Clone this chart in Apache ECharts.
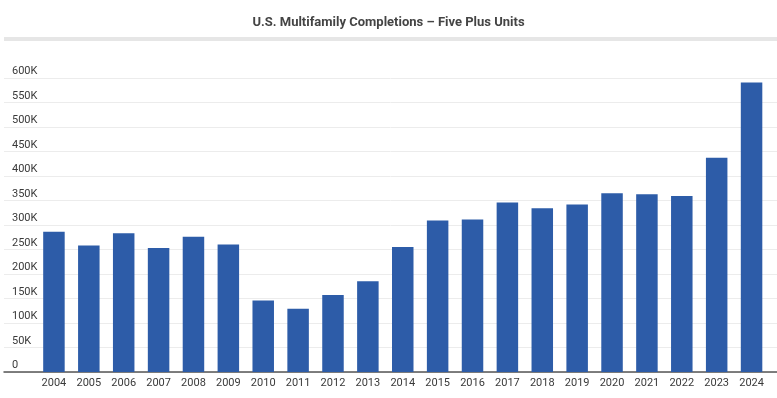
<!DOCTYPE html>
<html lang="en">
<head>
    <meta charset="UTF-8">
    <title>U.S. Multifamily Completions – Five Plus Units</title>
    <script src="https://cdn.jsdelivr.net/npm/echarts@6/dist/echarts.min.js"></script>
    <style>
        html, body { margin: 0; padding: 0; background: #fff; }
        #chart { width: 777px; height: 398px; }
    </style>
</head>
<body>
    <div id="chart"></div>
    <script>
        // data, thousands of units
        const years = ['2004', '2005', '2006', '2007', '2008', '2009', '2010', '2011', '2012', '2013', '2014',
            '2015', '2016', '2017', '2018', '2019', '2020', '2021', '2022', '2023', '2024'];
        const completions = [286, 258, 283, 253, 276, 260, 146, 129, 157, 185, 255,
            309, 311, 346, 334, 342, 365, 363, 359, 437, 591];
        const yTicks = { min: 0, max: 600, step: 50 };
        const title = 'U.S. Multifamily Completions – Five Plus Units';

        const chart = echarts.init(document.getElementById('chart'));
        const font = 'Roboto, "Noto Sans", sans-serif';

        const option = {
            animation: false,
            title: {
                text: title,
                left: 'center',
                top: 11,
                textStyle: { fontFamily: font, fontSize: 13, fontWeight: 'bold', color: '#444' }
            },
            graphic: [{
                type: 'rect',
                shape: { x: 4, y: 37, width: 773, height: 4 },
                style: { fill: '#e6e6e6' }
            }],
            // grid 0 holds the full-width gridlines, y labels and base line
            // grid 1 holds the bars and year labels
            grid: [
                { left: 4, right: 0, top: 78, bottom: 26 },
                { left: 36.5, right: 8, top: 78, bottom: 26 }
            ],
            xAxis: [{
                gridIndex: 0,
                type: 'value',
                min: 0, max: 1,
                axisLine: { show: true, onZero: false, lineStyle: { color: '#555', width: 1.5 } },
                axisTick: { show: false },
                axisLabel: { show: false },
                splitLine: { show: false }
            }, {
                gridIndex: 1,
                type: 'category',
                data: years,
                axisLine: { show: false },
                axisTick: { show: false },
                axisLabel: { fontFamily: font, fontSize: 11, color: '#3a3a3a', margin: 6 }
            }],
            yAxis: [{
                gridIndex: 0,
                type: 'value',
                min: yTicks.min,
                max: yTicks.max,
                interval: yTicks.step,
                axisLine: { show: false },
                axisTick: { show: false },
                splitLine: { lineStyle: { color: '#ececec', width: 1 } },
                axisLabel: {
                    inside: true,
                    align: 'left',
                    verticalAlign: 'bottom',
                    padding: [0, 0, 1, 0],
                    fontFamily: font,
                    fontSize: 11,
                    color: '#3a3a3a',
                    formatter: v => v === 0 ? '0' : v + 'K'
                }
            }, {
                gridIndex: 1,
                type: 'value',
                min: yTicks.min,
                max: yTicks.max,
                show: false
            }],
            series: [{
                type: 'bar',
                xAxisIndex: 1,
                yAxisIndex: 1,
                data: completions,
                barWidth: 21.5,
                itemStyle: { color: '#2d5ca8' }
            }]
        };

        chart.setOption(option);
        window.addEventListener('resize', () => chart.resize());
    </script>
</body>
</html>
